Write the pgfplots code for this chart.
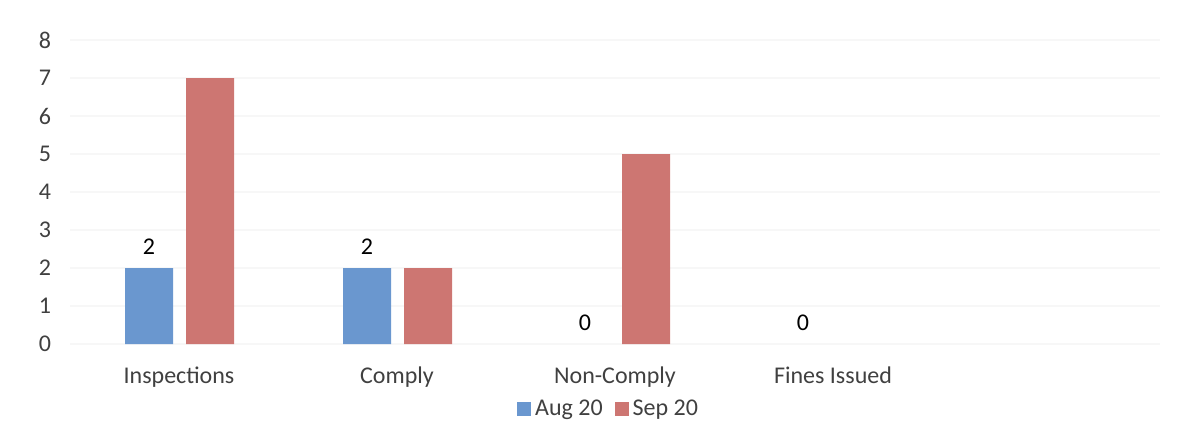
\documentclass[border=0pt]{standalone}
\usepackage{fontspec}
\setmainfont{Carlito}
\usepackage{pgfplots}
\pgfplotsset{compat=1.18}

\definecolor{augblue}{HTML}{6A97CF}
\definecolor{sepred}{HTML}{CD7672}
\definecolor{ticktxt}{HTML}{404040}

\begin{document}
\begin{tikzpicture}[x=1pt,y=1pt]
% page = 1187x423 px at 0.5pt per px; axis box starts at px (70,344)
\useasboundingbox (-35,-39.5) rectangle (558.5,172);
\begin{axis}[
  at={(0,0)}, anchor=south west,
  scale only axis,
  width=545pt, height=152pt,
  ymin=0, ymax=8,
  ytick={0,1,...,8},
  xmin=-0.5, xmax=4.5,
  xtick={0,1,2,3},
  xticklabels={Inspections,Comply,Non-Comply,Fines Issued},
  axis line style={draw=none},
  major tick length=0pt,
  ymajorgrids,
  grid style={draw=gray!6, line width=0.6pt},
  tick label style={font=\fontsize{12}{14}\selectfont, text=ticktxt},
  /pgf/number format/assume math mode=true,
  yticklabel style={xshift=-6pt},
  xticklabel style={yshift=-8pt},
  ybar,
  bar width=24pt,
  legend style={
    at={(0.495,-0.215)}, anchor=center,
    draw=none, fill=none,
    legend columns=2,
    font=\fontsize{12}{14}\selectfont,
    text=ticktxt,
    /tikz/every even column/.append style={column sep=4pt},
  },
  legend image code/.code={\fill[#1] (0pt,-3.5pt) rectangle (7pt,3.5pt);},
  every node near coord/.append style={font=\fontsize{12}{14}\selectfont, text=black, yshift=3pt},
]
\addplot[fill=augblue, draw=none, bar shift=-15pt, nodes near coords]
  coordinates {(0,2) (1,2)};
\addplot[fill=sepred, draw=none, bar shift=15.5pt]
  coordinates {(0,7) (1,2) (2,5)};
% zero-valued Aug 20 entries: label only, no visible bar
\addplot[draw=none, fill=none, bar shift=-15pt, nodes near coords, forget plot]
  coordinates {(2,0) (3,0)};
\legend{Aug 20, Sep 20}
\end{axis}
\end{tikzpicture}
\end{document}
